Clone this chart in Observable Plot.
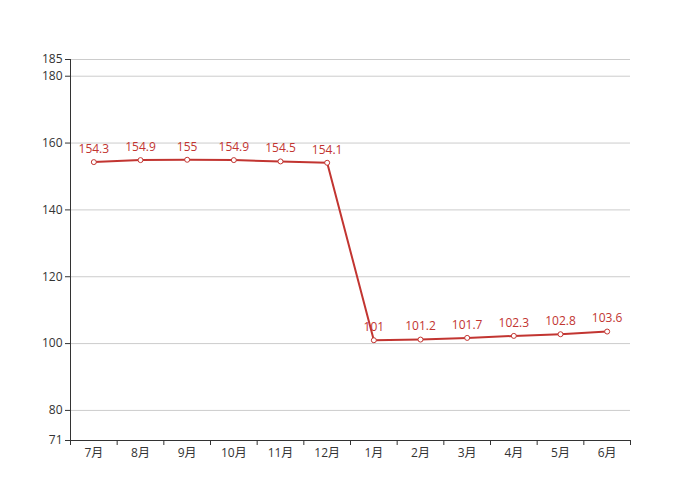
<!DOCTYPE html>
<html><head><meta charset="utf-8">
<script src="https://cdn.jsdelivr.net/npm/d3@7"></script>
<script src="https://cdn.jsdelivr.net/npm/@observablehq/plot@0.6"></script>
<style>body{margin:0;background:#fff}</style>
</head><body><div id="chart"></div>
<script>
const months = ["7月","8月","9月","10月","11月","12月","1月","2月","3月","4月","5月","6月"];
const values = [154.3,154.9,155,154.9,154.5,154.1,101,101.2,101.7,102.3,102.8,103.6];
const yTicks = [71,80,100,120,140,160,180,185];
const gridTicks = [80,100,120,140,160,180,185];

const data = months.map((m,i)=>({i, m, v: values[i]}));
const bounds = d3.range(-0.5, months.length, 1);
const red = "#c23531";

const chart = Plot.plot({
  width: 700, height: 500,
  marginTop: 59, marginBottom: 60, marginLeft: 70, marginRight: 70,
  style: {fontFamily: "'Open Sans', 'Noto Sans CJK SC', sans-serif", fontSize: "12px", color: "#333", background: "#fff"},
  x: {type: "linear", domain: [-0.5, months.length - 0.5], label: null},
  y: {domain: [71,185], label: null},
  marks: [
    Plot.gridY(gridTicks, {stroke: "#ccc", strokeOpacity: 1}),
    Plot.axisY({ticks: yTicks, tickSize: 5, tickPadding: 3, stroke: "#333", fill: "#333", fontSize: 12, label: null}),
    Plot.ruleX([-0.5], {stroke: "#333"}),
    Plot.ruleY([71], {stroke: "#333"}),
    Plot.axisX({ticks: bounds, tickSize: 5, tickFormat: () => "", stroke: "#333", label: null}),
    Plot.axisX({ticks: d3.range(months.length), tickSize: 0, tickPadding: 8, tickFormat: i => months[i], fill: "#333", fontSize: 12, label: null}),
    Plot.line(data, {x: "i", y: "v", stroke: red, strokeWidth: 2}),
    Plot.dot(data, {x: "i", y: "v", r: 2.5, fill: "#fff", stroke: red, strokeWidth: 1}),
    Plot.text(data, {x: "i", y: "v", text: d => String(d.v), dy: -13, fill: red, fontSize: 12})
  ]
});
document.getElementById("chart").append(chart);
</script>
</body></html>
